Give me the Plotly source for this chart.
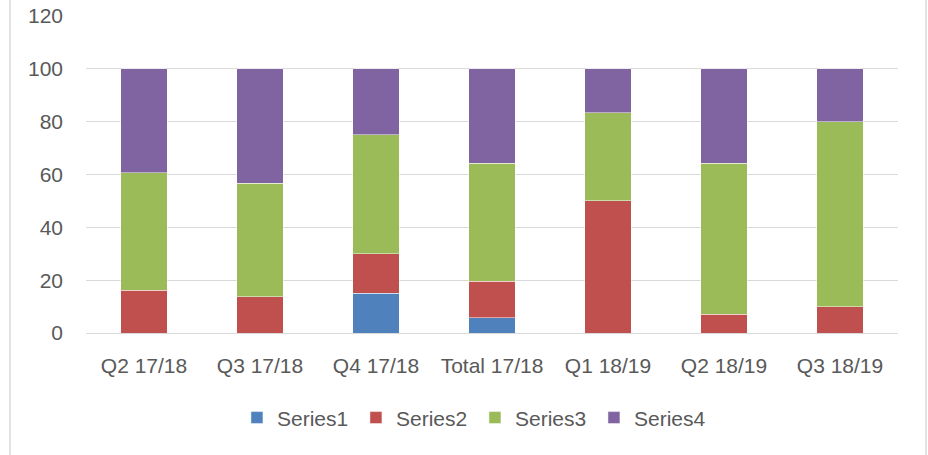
import plotly.graph_objects as go

categories = ["Q2 17/18", "Q3 17/18", "Q4 17/18", "Total 17/18", "Q1 18/19", "Q2 18/19", "Q3 18/19"]
series1 = [0, 0, 15, 5.7, 0, 0, 0]
series2 = [16.1, 13.8, 15, 13.8, 50, 7.1, 10]
series3 = [44.6, 42.9, 45, 44.8, 33.3, 57.1, 70]
series4 = [39.3, 43.3, 25, 35.7, 16.7, 35.8, 20]
series_names = ["Series1", "Series2", "Series3", "Series4"]
colors = ["#4F81BD", "#C0504D", "#9BBB59", "#8064A2"]
y_ticks = [0, 20, 40, 60, 80, 100, 120]

fig = go.Figure()
for name, vals, col in zip(series_names, [series1, series2, series3, series4], colors):
    fig.add_trace(go.Bar(
        x=categories, y=vals, name=name,
        marker=dict(color=col, line=dict(color="rgba(255,255,255,0.6)", width=0.8)),
    ))

font = dict(family="Liberation Sans, Arial, sans-serif", size=21, color="#595959")

fig.update_layout(
    barmode="stack",
    bargap=0.6,
    width=928, height=455,
    margin=dict(l=86, r=30, t=16, b=122),
    paper_bgcolor="white",
    plot_bgcolor="white",
    font=font,
    xaxis=dict(
        showgrid=False, showline=False, zeroline=False,
        ticks="", ticklabelstandoff=18, automargin=False,
        tickfont=font,
    ),
    yaxis=dict(
        range=[0, 120], tickvals=y_ticks,
        showgrid=True, gridcolor="#D9D9D9", gridwidth=1.3,
        zeroline=True, zerolinecolor="#D9D9D9", zerolinewidth=1.3,
        showline=False, ticks="", ticklabelstandoff=22, automargin=False,
        tickfont=font,
    ),
    legend=dict(
        orientation="h",
        x=0.479, xanchor="center",
        y=-0.268, yanchor="middle",
        font=font,
        entrywidth=74,
        itemwidth=30,
        traceorder="normal",
    ),
    shapes=[
        dict(type="line", xref="paper", yref="paper", x0=-0.0936, x1=-0.0936, y0=-1, y1=2,
             line=dict(color="#D9D9D9", width=1.5)),
        dict(type="line", xref="paper", yref="paper", x0=1.0345, x1=1.0345, y0=-1, y1=2,
             line=dict(color="#D9D9D9", width=1.5)),
    ],
)

fig.write_html("out.html", config={"displayModeBar": False})

with open("out.html", "r", encoding="utf-8") as f:
    html = f.read()
html = html.replace("<head>", "<head><style>html,body{margin:0;padding:0;overflow:hidden;}</style>", 1)
with open("out.html", "w", encoding="utf-8") as f:
    f.write(html)
